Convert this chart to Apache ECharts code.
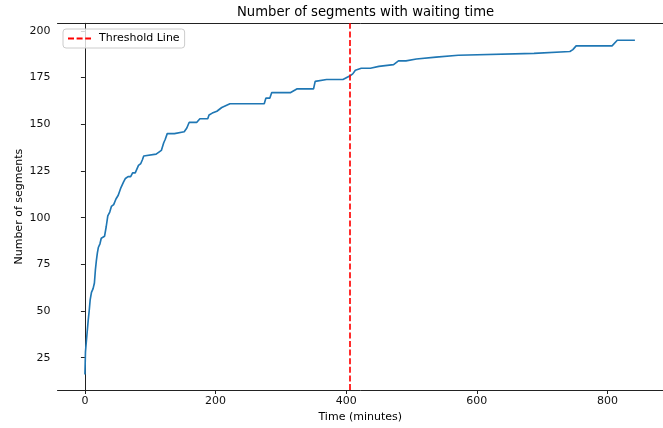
<!DOCTYPE html>
<html>
<head>
<meta charset="utf-8">
<script src="https://cdn.jsdelivr.net/npm/echarts@6/dist/echarts.min.js"></script>
<style>html,body{margin:0;padding:0;background:#fff}#c{width:663px;height:428px}</style>
</head>
<body>
<div id="c"></div>
<script>
// Data
const timeMinutes = [0,0.8,1.5,3,5,6.5,8,10,12.5,14.5,16,17.5,19,20.5,23,25,30,32.5,35,38,40.5,44,47.5,51,55,59,62,66,70,73,77,79.5,82,85.5,88,90,93,109,112,117,120.5,123,126,137,139.5,152,156,159.5,171,176,188,190,195,202,209.5,212,222,274.5,277,283,286,315,317,325,350,352.5,370,395,397.5,406,410,414,423,437,440,450,452.5,472.5,475,480,491.5,493.5,507.5,510,537.5,540,571.5,574,687.5,690,742.5,747,752,807,809,815,842];
const segmentCount = [16,28,31,37,45,50,56,60,62,65,72,77,81,84,86,89,90,95,101,103,106,107,110,112,116,119,121,122,122,124,124,126,128,129,131,133,134,134,135,136,140,142,145,145,146,146,148,151,151,153,153,155,156,157,159,160,161,161,164,164,167,167,168,169,169,173,174,174,175,176,177,179,180,180,181,181,182,182,183,184,184,185,185,186,186,187,187,188,188,189,189,190,192,192,193,195,195];
const thresholdMinutes = 406;
const xTicks = [0,200,400,600,800];
const yTicks = [25,50,75,100,125,150,175,200];

const pts = timeMinutes.map((t,i)=>[t, segmentCount[i]]);
const font = 'DejaVu Sans';
const chart = echarts.init(document.getElementById('c'), null, {renderer:'canvas'});
chart.setOption({
  animation:false,
  backgroundColor:'#fff',
  title:{text:'Number of segments with waiting time', left:232, top:1, right:'auto', bottom:'auto',
    textStyle:{fontFamily:font, fontSize:13.2, fontWeight:'normal', color:'#000'}},
  legend:{left:63, top:29, right:'auto', bottom:'auto', orient:'horizontal', itemWidth:23, itemHeight:12,
    padding:[4,5,4,4], borderColor:'#cccccc', borderWidth:1, borderRadius:3,
    backgroundColor:'rgba(255,255,255,0.8)',
    itemStyle:{opacity:0, color:'transparent', borderWidth:0},
    textStyle:{fontFamily:font, fontSize:11, color:'#000', padding:[0,0,0,3]},
    data:[{name:'Threshold Line'}]},
  grid:{left:57.5, top:23.3, width:618, height:366.7},
  xAxis:[{type:'value', min:-42, max:885, position:'bottom',
    name:'Time (minutes)', nameLocation:'middle', nameGap:22, nameMoveOverlap:false,
    nameTextStyle:{fontFamily:font, fontSize:11, color:'#000'},
    axisLine:{show:true, lineStyle:{color:'#222', width:1}},
    axisTick:{show:true, length:4, customValues:xTicks, lineStyle:{color:'#222'}},
    axisLabel:{customValues:xTicks, margin:6, fontFamily:font, fontSize:11, color:'#111'},
    splitLine:{show:false}},
   {type:'value', min:-42, max:885, position:'top',
    axisLine:{show:true, onZero:false, lineStyle:{color:'#222', width:1}},
    axisTick:{show:false}, axisLabel:{show:false}, splitLine:{show:false}}],
  yAxis:{type:'value', min:7.7, max:204.1,
    name:'Number of segments', nameLocation:'middle', nameGap:33, nameMoveOverlap:false,
    nameTextStyle:{fontFamily:font, fontSize:11, color:'#000'},
    axisLine:{show:true, lineStyle:{color:'#222', width:1}},
    axisTick:{show:true, length:4, customValues:yTicks, lineStyle:{color:'#222'}},
    axisLabel:{customValues:yTicks, margin:7, fontFamily:font, fontSize:11, color:'#111'},
    splitLine:{show:false}},
  series:[
    {type:'line', name:'Segments', data:pts, showSymbol:false, symbol:'none',
     lineStyle:{color:'#1f77b4', width:1.65}, itemStyle:{color:'#1f77b4'}, z:3},
    {type:'line', name:'Threshold Line', data:[], symbol:'none',
     lineStyle:{color:'red', width:1.65, type:[6,2.6]}, itemStyle:{color:'red'},
     markLine:{silent:true, symbol:'none', label:{show:false},
       lineStyle:{color:'red', width:1.65, type:[6,2.6]},
       data:[{xAxis:thresholdMinutes}]}, z:4}
  ]
});
</script>
</body>
</html>
